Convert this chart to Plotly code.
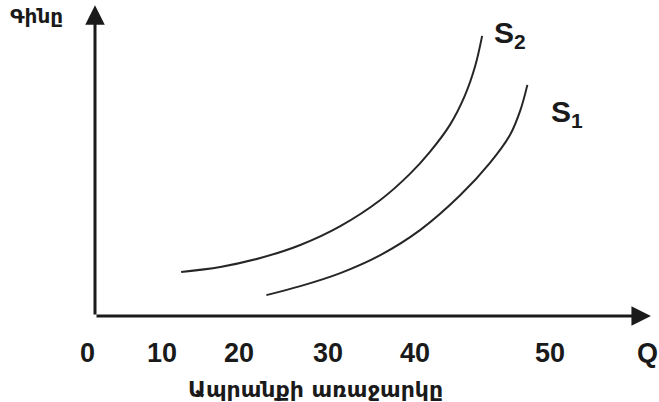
import plotly.graph_objects as go

# Data (Q = quantity units, P = price units)
s2_q = [9.9, 14.4, 19.0, 23.6, 28.2, 32.8, 36.2, 38.5, 40.8, 42.5, 43.7, 44.5]
s2_p = [15.2, 16.9, 20.0, 24.5, 31.0, 40.0, 49.0, 56.6, 65.9, 75.9, 86.2, 96.6]
s1_q = [19.7, 23.6, 28.2, 32.8, 37.4, 42.0, 45.4, 47.7, 48.9, 49.7]
s1_p = [7.2, 10.3, 14.8, 21.0, 29.7, 41.7, 52.8, 62.4, 71.0, 79.7]

tick_labels = ["0", "10", "20", "30", "40", "50", "Q"]
tick_pos = [-0.92, 7.70, 16.55, 26.78, 36.78, 52.30, 63.56]

x_title = "Ապրանքի առաջարկը"
y_title = "Գինը"

X_RANGE = [-10.92, 64.83]
Y_RANGE = [-29.66, 108.97]
X_TIP = 63.9
Y_TIP = 107.2
TICK_Y = -12.8

LINE_COLOR = "#262626"
AX_COLOR = "#1a1a1a"

fig = go.Figure()
fig.add_trace(go.Scatter(x=s2_q, y=s2_p, mode="lines",
                         line=dict(color=LINE_COLOR, width=2, shape="spline", smoothing=1.0),
                         name="S2", showlegend=False, hoverinfo="skip"))
fig.add_trace(go.Scatter(x=s1_q, y=s1_p, mode="lines",
                         line=dict(color=LINE_COLOR, width=2, shape="spline", smoothing=1.0),
                         name="S1", showlegend=False, hoverinfo="skip"))

annotations = []
# axes arrows
annotations.append(dict(x=X_TIP, y=0, ax=0, ay=0, xref="x", yref="y", axref="x", ayref="y",
                        text="", showarrow=True, arrowhead=2, arrowsize=1.3, arrowwidth=3,
                        arrowcolor=AX_COLOR))
annotations.append(dict(x=0, y=Y_TIP, ax=0, ay=0, xref="x", yref="y", axref="x", ayref="y",
                        text="", showarrow=True, arrowhead=2, arrowsize=1.3, arrowwidth=3,
                        arrowcolor=AX_COLOR))

tick_font = dict(family="Liberation Sans, Arial, sans-serif", size=27, color="#1a1a1a", weight="bold")
for lab, pos in zip(tick_labels, tick_pos):
    annotations.append(dict(x=pos, y=TICK_Y, xref="x", yref="y", text=lab, showarrow=False,
                            xanchor="center", yanchor="middle", font=tick_font))

arm_font = dict(family="DejaVu Sans, sans-serif", color="#1a1a1a", weight="bold")
annotations.append(dict(x=25.3, y=-25.2, xref="x", yref="y", text=x_title, showarrow=False,
                        xanchor="center", yanchor="middle", font=dict(arm_font, size=22)))
annotations.append(dict(x=-6.67, y=103.6, xref="x", yref="y", text=y_title, showarrow=False,
                        xanchor="center", yanchor="middle", font=dict(arm_font, size=20)))

s_font = dict(family="Liberation Sans, Arial, sans-serif", size=30, color="#1a1a1a", weight="bold")
annotations.append(dict(x=45.6, y=97.0, xref="x", yref="y", text="S<sub>2</sub>", showarrow=False,
                        xanchor="left", yanchor="middle", font=s_font))
annotations.append(dict(x=52.2, y=69.8, xref="x", yref="y", text="S<sub>1</sub>", showarrow=False,
                        xanchor="left", yanchor="middle", font=s_font))

fig.update_layout(
    width=659, height=402,
    margin=dict(l=0, r=0, t=0, b=0),
    paper_bgcolor="white", plot_bgcolor="white",
    xaxis=dict(range=X_RANGE, visible=False, fixedrange=True),
    yaxis=dict(range=Y_RANGE, visible=False, fixedrange=True),
    annotations=annotations,
    showlegend=False,
)

fig.write_html("out.html", config={"displayModeBar": False},
               post_script="document.body.style.margin='0px';document.body.style.overflow='hidden';")
